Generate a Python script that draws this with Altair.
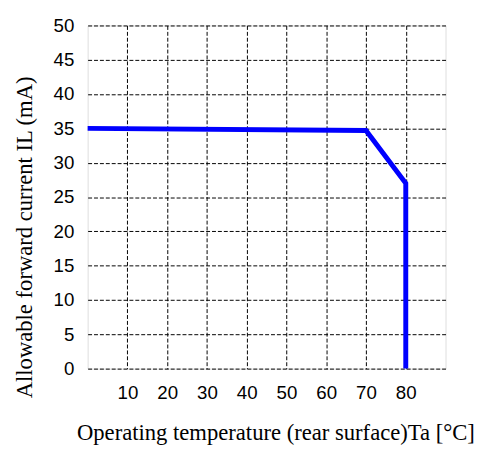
import altair as alt
import pandas as pd

# Derating curve points
temp = [0, 70, 80, 80]
current = [35, 34.7, 27, 0]

x_ticks = [10, 20, 30, 40, 50, 60, 70, 80]
y_ticks = [0, 5, 10, 15, 20, 25, 30, 35, 40, 45, 50]

df = pd.DataFrame({"t": temp, "i": current, "order": list(range(len(temp)))})

chart = alt.Chart(df).mark_line(color="#0000ff", strokeWidth=5, strokeCap="butt", strokeJoin="miter").encode(
    x=alt.X("t:Q",
            scale=alt.Scale(domain=[0, 90], nice=False, zero=False),
            axis=alt.Axis(values=x_ticks, title="Operating temperature (rear surface)Ta [°C]",
                          grid=True, gridDash=[4, 2], gridColor="#000000", gridWidth=1,
                          ticks=False, domain=False, labelPadding=15,
                          labelFont="Liberation Sans", labelFontSize=19, labelColor="#000000",
                          titleFont="Liberation Serif", titleFontSize=23, titleFontWeight="normal",
                          titleColor="#000000", titleX=191, titleY=72, titleAlign="center",
                          titleBaseline="alphabetic", titleAnchor="middle")),
    y=alt.Y("i:Q",
            scale=alt.Scale(domain=[0, 50], nice=False, zero=False),
            axis=alt.Axis(values=y_ticks, title="Allowable forward current IL (mA)",
                          grid=True, gridDash=[4, 2], gridColor="#000000", gridWidth=1,
                          ticks=False, domain=False, labelPadding=14,
                          labelFont="Liberation Sans", labelFontSize=19, labelColor="#000000",
                          titleFont="Liberation Serif", titleFontSize=23, titleFontWeight="normal",
                          titleColor="#000000", titleAngle=-90, titleX=-57, titleY=215,
                          titleAlign="center", titleBaseline="alphabetic")),
    order="order:Q",
).properties(
    width=364,
    height=349,
    autosize=alt.AutoSizeParams(type="none"),
    padding={"left": 81, "top": 14, "right": 32, "bottom": 79},
).configure_view(
    stroke="#000000", strokeWidth=3
).configure(background="#ffffff")

chart.save("out.html", embed_options={"renderer": "svg", "actions": False})
